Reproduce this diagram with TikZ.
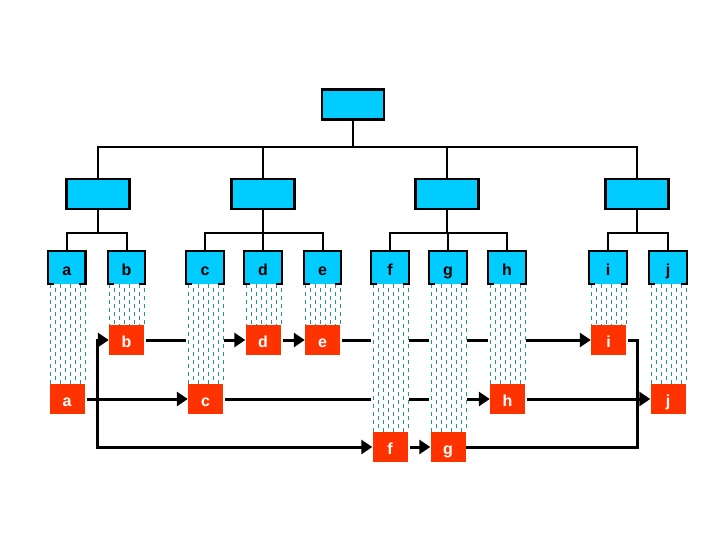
\documentclass[tikz,border=0pt]{standalone}
\usepackage{fontspec}
\setmainfont{Liberation Sans}
\usetikzlibrary{arrows.meta,calc}
\definecolor{boxcyan}{RGB}{0,204,255}
\definecolor{boxred}{RGB}{255,51,0}
\definecolor{hatchcol}{RGB}{40,150,130}
\begin{document}
\begin{tikzpicture}[x=1pt,y=-1pt,
  tree/.style={line width=2pt, black},
  topbox/.style={draw=black, line width=2.2pt, fill=boxcyan, minimum width=62pt, minimum height=30pt, inner sep=0pt},
  leafbox/.style={fill=boxcyan, minimum width=37pt, minimum height=33pt, inner sep=0pt, text height=15pt, text depth=0pt, font=\fontsize{16}{19}\selectfont\bfseries},
  leafborder/.style={line width=2.2pt, black},
  redbox/.style={fill=boxred, text=white, minimum width=35pt, minimum height=30pt, inner sep=0pt, text height=14pt, text depth=0pt, font=\fontsize{16}{19}\selectfont\bfseries},
  link/.style={line width=3pt, black, -{Triangle[length=11pt,width=14pt]}},
  plainlink/.style={line width=3pt, black},
  hatchline/.style={hatchcol, line width=1pt, dash pattern=on 4pt off 4pt}
]
\useasboundingbox (0,0) rectangle (720,540);

% tree boxes
\node[topbox] (T) at (353,104.5) {};
\node[topbox, minimum width=63pt] (L1) at (98,194) {};
\node[topbox, minimum width=63pt] (L2) at (263,194) {};
\node[topbox, minimum width=63pt] (L3) at (447,194) {};
\node[topbox, minimum width=63pt] (L4) at (637,194) {};

% leaf boxes
\node[leafbox] (a) at (66.7,267.5) {a};
\node[leafbox] (b) at (126.5,267.5) {b};
\node[leafbox] (c) at (205,267.5) {c};
\node[leafbox] (d) at (263,267.5) {d};
\node[leafbox] (e) at (322.5,267.5) {e};
\node[leafbox] (f) at (390,267.5) {f};
\node[leafbox] (g) at (448,267.5) {g};
\node[leafbox] (h) at (507,267.5) {h};
\node[leafbox] (i) at (608,267.5) {i};
\node[leafbox] (j) at (668,267.5) {j};

% red boxes
\node[redbox] (ra) at (67,399) {a};
\node[redbox] (rb) at (126.5,340) {b};
\node[redbox] (rc) at (205.5,399) {c};
\node[redbox] (rd) at (263,340) {d};
\node[redbox] (re) at (322.5,340) {e};
\node[redbox] (rf) at (390,447) {f};
\node[redbox] (rg) at (448,447) {g};
\node[redbox] (rh) at (507.5,399) {h};
\node[redbox] (ri) at (608.5,340) {i};
\node[redbox] (rj) at (668,399) {j};

% tree lines
\coordinate (tb) at (353,147);
\draw[tree] (T.south) -- (tb);
\draw[tree] (L1.north) |- (tb) -| (L4.north);
\draw[tree] (L2.north) -- (L2.north |- tb);
\draw[tree] (L3.north) -- (L3.north |- tb);
\coordinate (m1) at (98,233);
\coordinate (m2) at (263,233);
\coordinate (m3) at (447,233);
\coordinate (m4) at (637,233);
\draw[tree] (L1.south) -- (m1);
\draw[tree] (a.north) |- (m1) -| (b.north);
\draw[tree] (L2.south) -- (m2);
\draw[tree] (c.north) |- (m2) -| (e.north);
\draw[tree] (d.north) -- (d.north |- m2);
\draw[tree] (L3.south) -- (m3);
\draw[tree] (f.north) |- (m3) -| (h.north);
\draw[tree] (g.north) -- (g.north |- m3);
\draw[tree] (L4.south) -- (m4);
\draw[tree] (i.north) |- (m4) -| (j.north);

% connectors
\draw[link, shorten <=2pt] (rb) -- (rd);
\draw[link, shorten <=2pt] (rd) -- (re);
\draw[link, shorten <=2pt] (re) -- (ri);
\draw[link, shorten <=2pt] (ra) -- (rc);
\draw[link, shorten <=2pt] (rc) -- (rh);
\draw[link, shorten <=2pt] (rh) -- (rj);
\coordinate (cr1) at (637,340);
\coordinate (cr2) at (637,447);
\coordinate (cl) at (97,447);
\coordinate (clu) at (97,340);
\draw[plainlink, line join=miter, shorten <=2pt] (ri.east) -- (cr1) -- (cr2) -- (rg.east);
\draw[link, line cap=rect] (cl) -- (rf.west);
\draw[link, shorten <=2pt] (rf) -- (rg);
\draw[link, line join=miter] (cl) -- (clu) -- (rb.west);

% hatched columns
\foreach \nm/\rn in {a/ra,b/rb,c/rc,d/rd,e/re,f/rf,g/rg,h/rh,i/ri,j/rj}{
  \fill[white] (\nm.south west) rectangle (\nm.south east |- \rn.north);
  \foreach \k in {0,...,7}{
    \pgfmathsetmacro{\ph}{mod(\k,2)*4}
    \draw[hatchline, dash phase={\ph pt}] ($(\nm.south west)+(2+5*\k,0)$) -- ($(\nm.south west |- \rn.north)+(2+5*\k,0)$);
  }
}

% leaf borders (open at bottom middle)
\foreach \nm in {a,b,c,d,e,f,g,h,i,j}{
  \draw[leafborder] ($(\nm.south west)+(6,0)$) -- (\nm.south west) -- (\nm.north west) -- (\nm.north east) -- (\nm.south east) -- ++(-6,0);
}
\end{tikzpicture}
\end{document}
